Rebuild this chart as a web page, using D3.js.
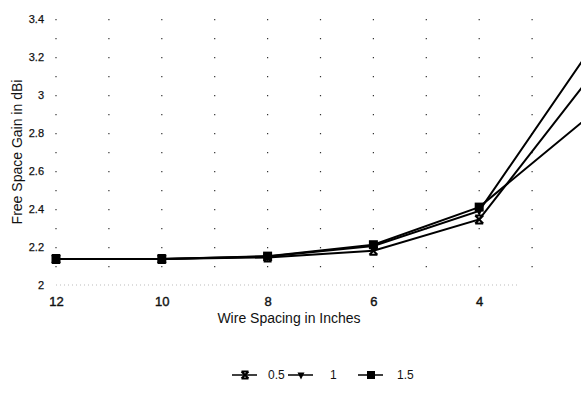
<!DOCTYPE html>
<html><head><meta charset="utf-8">
<script src="https://cdn.jsdelivr.net/npm/d3@7"></script>
<style>html,body{margin:0;padding:0;background:#fff;overflow:hidden}svg{display:block}text{font-family:"Liberation Sans",Arial,sans-serif;fill:#111}</style>
</head><body>
<script>
const categories = ["12","10","8","6","4","2"];
const seriesNames = ["0.5","1","1.5"];
const gain05 = [2.137, 2.137, 2.145, 2.18, 2.345, 3.06];
const gain1  = [2.137, 2.137, 2.15, 2.205, 2.39, 3.20];
const gain15 = [2.137, 2.137, 2.152, 2.212, 2.41, 2.87];
const yTicks = [2, 2.2, 2.4, 2.6, 2.8, 3, 3.2, 3.4];
const markers = ["x","tri","sq"];
const series = [gain05, gain1, gain15];

const W = 581, H = 393;
const svg = d3.select("body").append("svg").attr("width", W).attr("height", H);
const x = d3.scalePoint().domain(categories).range([56, 585]);
const y = d3.scaleLinear().domain([2, 3.4]).range([285, 19]);

// vertical dotted grid at categories and midpoints
const step = x.step();
const gx = [];
categories.forEach(c => { gx.push(x(c)); gx.push(x(c) + step / 2); });
svg.append("g").selectAll("line").data(gx.filter(v => v < W)).join("line")
  .attr("x1", d => d).attr("x2", d => d)
  .attr("y1", y(3.4)).attr("y2", y(2))
  .attr("stroke", "#333").attr("stroke-width", 1.2)
  .attr("stroke-dasharray", "1.2,17.8");
// faint baseline
svg.append("line").attr("x1", 56).attr("x2", 520).attr("y1", y(2)).attr("y2", y(2))
  .attr("stroke", "#bbb").attr("stroke-width", 1).attr("stroke-dasharray", "1,3");

// y axis labels
const yAxis = d3.axisLeft(y).tickValues(yTicks).tickSize(0).tickPadding(12).tickFormat(d3.format("~g"));
const ya = svg.append("g").attr("transform", "translate(56,0)").call(yAxis);
ya.select(".domain").remove();
ya.selectAll("text").style("font-size", "11px").style("font-family", "Liberation Sans, Arial, sans-serif").attr("fill", "#111").attr("stroke", "#111").attr("stroke-width", 0.25);

// x axis labels (only categories inside the visible window)
const visibleCats = categories.filter(c => x(c) + 8 < W);
const xAxis = d3.axisBottom(x).tickValues(visibleCats).tickSize(0).tickPadding(12);
const xa = svg.append("g").attr("transform", "translate(0,285)").call(xAxis);
xa.select(".domain").remove();
xa.selectAll("text").style("font-size", "13px").style("font-family", "Liberation Sans, Arial, sans-serif").attr("fill", "#111").attr("stroke", "#111").attr("stroke-width", 0.4);

// titles
svg.append("text").attr("transform", "translate(22,152) rotate(-90)")
  .attr("text-anchor", "middle").style("font-size", "14px").text("Free Space Gain in dBi");
svg.append("text").attr("x", 289).attr("y", 323)
  .attr("text-anchor", "middle").style("font-size", "14px").text("Wire Spacing in Inches");

function drawMarker(g, type, cx, cy, s) {
  if (type === "sq") {
    g.append("rect").attr("x", cx - s / 2).attr("y", cy - s / 2).attr("width", s).attr("height", s).attr("fill", "#000");
  } else if (type === "tri") {
    g.append("path").attr("d", `M${cx - s / 2},${cy - s / 2 + 1}L${cx + s / 2},${cy - s / 2 + 1}L${cx},${cy + s / 2 + 1}Z`).attr("fill", "#000");
  } else {
    const h = s / 2;
    g.append("path").attr("d", `M${cx - h},${cy - h}L${cx + h},${cy + h}M${cx + h},${cy - h}L${cx - h},${cy + h}M${cx - h},${cy - h}L${cx + h},${cy - h}M${cx - h},${cy + h}L${cx + h},${cy + h}`)
      .attr("stroke", "#000").attr("stroke-width", 2).attr("fill", "none");
  }
}

const line = d3.line().x((d, i) => x(categories[i])).y(d => y(d));
series.forEach((vals, si) => {
  const g = svg.append("g");
  g.append("path").attr("d", line(vals)).attr("fill", "none").attr("stroke", "#000").attr("stroke-width", 2);
  vals.forEach((v, i) => {
    const cx = x(categories[i]);
    if (cx < W) drawMarker(g, markers[si], cx, y(v), markers[si] === "sq" ? 9 : 8);
  });
});

// legend
const legendItems = [
  {x0: 232, tx: 268},
  {x0: 288, tx: 330},
  {x0: 358, tx: 397}
];
const lg = svg.append("g");
seriesNames.forEach((name, i) => {
  const it = legendItems[i];
  const ly = 375;
  lg.append("line").attr("x1", it.x0).attr("x2", it.x0 + 25).attr("y1", ly).attr("y2", ly).attr("stroke", "#000").attr("stroke-width", 1.5);
  drawMarker(lg, markers[i], it.x0 + 13, ly, markers[i] === "sq" ? 8 : 7);
  lg.append("text").attr("x", it.tx).attr("y", ly + 4).style("font-size", "12px").text(name);
});
</script>
</body></html>
